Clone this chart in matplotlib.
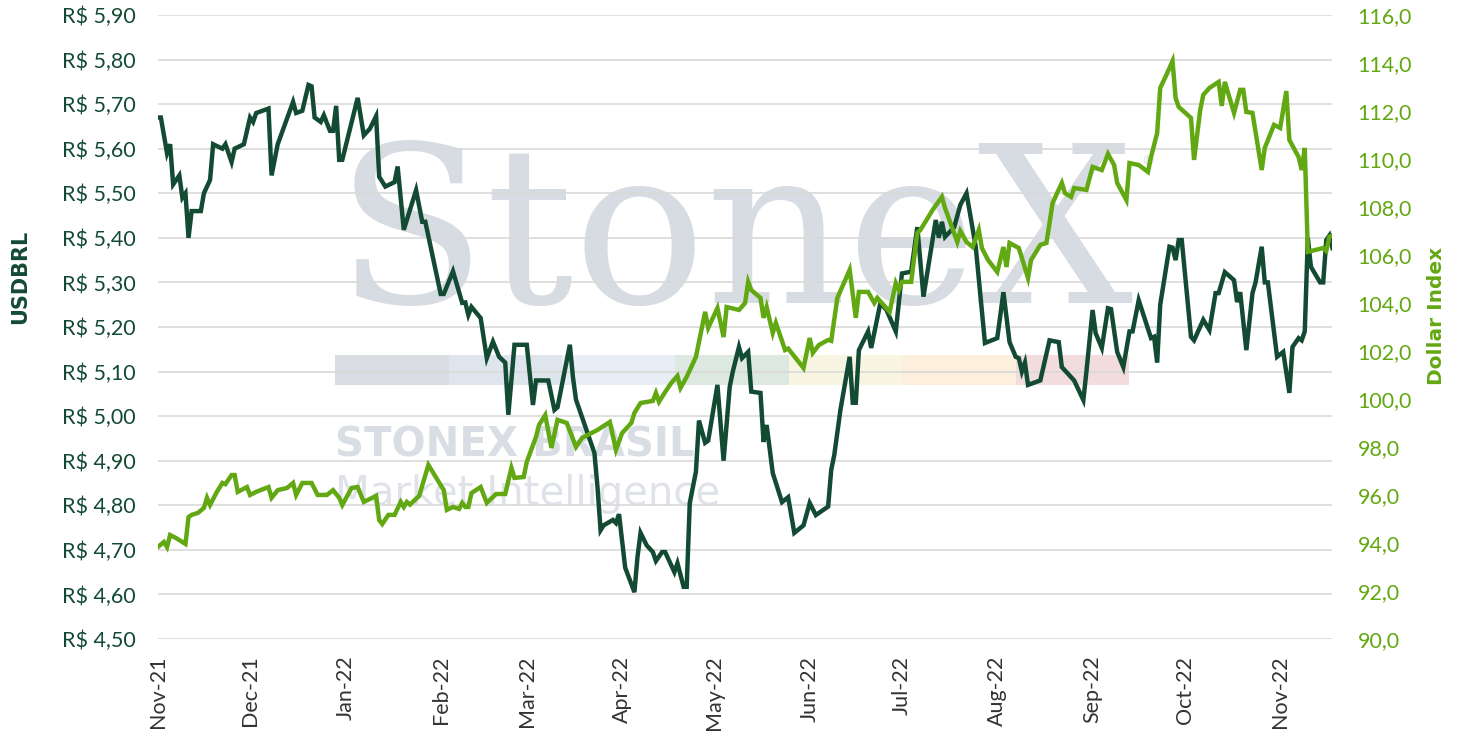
import numpy as np
import pandas as pd
import matplotlib
matplotlib.use("Agg")
import matplotlib.pyplot as plt
import matplotlib.dates as mdates
from matplotlib.ticker import FuncFormatter, MultipleLocator
from matplotlib.patches import Rectangle

plt.rcParams['font.family'] = ['Lato', 'DejaVu Sans']

# USDBRL (left axis)
brl_dates = [
    "2021-11-01", "2021-11-02", "2021-11-04", "2021-11-05", "2021-11-06", "2021-11-08", "2021-11-09",
    "2021-11-10", "2021-11-11", "2021-11-12", "2021-11-15", "2021-11-16", "2021-11-18", "2021-11-19",
    "2021-11-22", "2021-11-23", "2021-11-25", "2021-11-26", "2021-11-29", "2021-12-01", "2021-12-02",
    "2021-12-03", "2021-12-07", "2021-12-08", "2021-12-10", "2021-12-15", "2021-12-16", "2021-12-18",
    "2021-12-20", "2021-12-21", "2021-12-22", "2021-12-24", "2021-12-25", "2021-12-27", "2021-12-28",
    "2021-12-29", "2021-12-30", "2021-12-31", "2022-01-05", "2022-01-07", "2022-01-09", "2022-01-11",
    "2022-01-12", "2022-01-14", "2022-01-17", "2022-01-18", "2022-01-20", "2022-01-24", "2022-01-26",
    "2022-01-27", "2022-02-01", "2022-02-02", "2022-02-05", "2022-02-08", "2022-02-09", "2022-02-10",
    "2022-02-11", "2022-02-14", "2022-02-16", "2022-02-18", "2022-02-20", "2022-02-22", "2022-02-23",
    "2022-02-25", "2022-03-01", "2022-03-03", "2022-03-04", "2022-03-08", "2022-03-10", "2022-03-11",
    "2022-03-15", "2022-03-16", "2022-03-17", "2022-03-23", "2022-03-24", "2022-03-25", "2022-03-26",
    "2022-03-29", "2022-03-30", "2022-03-31", "2022-04-02", "2022-04-05", "2022-04-06", "2022-04-07",
    "2022-04-09", "2022-04-11", "2022-04-12", "2022-04-14", "2022-04-15", "2022-04-18", "2022-04-19",
    "2022-04-21", "2022-04-22", "2022-04-23", "2022-04-25", "2022-04-26", "2022-04-28", "2022-04-29",
    "2022-05-02", "2022-05-04", "2022-05-06", "2022-05-07", "2022-05-09", "2022-05-10", "2022-05-12",
    "2022-05-13", "2022-05-16", "2022-05-17", "2022-05-18", "2022-05-20", "2022-05-23", "2022-05-25",
    "2022-05-27", "2022-05-30", "2022-06-01", "2022-06-03", "2022-06-07", "2022-06-08", "2022-06-09",
    "2022-06-11", "2022-06-14", "2022-06-15", "2022-06-16", "2022-06-17", "2022-06-20", "2022-06-21",
    "2022-06-24", "2022-06-26", "2022-06-29", "2022-07-01", "2022-07-04", "2022-07-06", "2022-07-08",
    "2022-07-12", "2022-07-13", "2022-07-14", "2022-07-15", "2022-07-18", "2022-07-20", "2022-07-22",
    "2022-07-25", "2022-07-28", "2022-08-01", "2022-08-03", "2022-08-05", "2022-08-07", "2022-08-08",
    "2022-08-09", "2022-08-10", "2022-08-11", "2022-08-15", "2022-08-18", "2022-08-21", "2022-08-22",
    "2022-08-26", "2022-08-29", "2022-08-30", "2022-09-01", "2022-09-02", "2022-09-04", "2022-09-06",
    "2022-09-07", "2022-09-09", "2022-09-11", "2022-09-13", "2022-09-14", "2022-09-16", "2022-09-20",
    "2022-09-21", "2022-09-22", "2022-09-23", "2022-09-26", "2022-09-27", "2022-09-28", "2022-09-29",
    "2022-09-30", "2022-10-03", "2022-10-04", "2022-10-07", "2022-10-09", "2022-10-11", "2022-10-12",
    "2022-10-14", "2022-10-17", "2022-10-18", "2022-10-19", "2022-10-21", "2022-10-23", "2022-10-24",
    "2022-10-26", "2022-10-27", "2022-10-28", "2022-10-31", "2022-11-02", "2022-11-04", "2022-11-05",
    "2022-11-07", "2022-11-08", "2022-11-09", "2022-11-10", "2022-11-11", "2022-11-14", "2022-11-15",
    "2022-11-16", "2022-11-17", "2022-11-18",
]
brl_values = [
    5.67, 5.67, 5.59, 5.61, 5.52, 5.54, 5.49,
    5.50, 5.40, 5.46, 5.46, 5.50, 5.53, 5.61,
    5.60, 5.61, 5.57, 5.60, 5.61, 5.67, 5.66,
    5.68, 5.69, 5.54, 5.61, 5.705, 5.68, 5.685,
    5.743, 5.74, 5.67, 5.66, 5.675, 5.64, 5.64,
    5.696, 5.575, 5.575, 5.714, 5.63, 5.645, 5.673,
    5.537, 5.515, 5.525, 5.56, 5.418, 5.507, 5.436,
    5.436, 5.274, 5.274, 5.325, 5.254, 5.255, 5.227,
    5.245, 5.22, 5.13, 5.167, 5.133, 5.12, 5.003,
    5.16, 5.16, 5.025, 5.08, 5.08, 5.014, 5.02,
    5.16, 5.088, 5.037, 4.917, 4.84, 4.744, 4.755,
    4.767, 4.76, 4.78, 4.66, 4.605, 4.684, 4.738,
    4.71, 4.695, 4.675, 4.695, 4.695, 4.65, 4.67,
    4.617, 4.617, 4.805, 4.875, 4.99, 4.94, 4.945,
    5.07, 4.90, 5.066, 5.10, 5.155, 5.13, 5.144,
    5.055, 5.052, 4.942, 4.98, 4.872, 4.807, 4.818,
    4.738, 4.755, 4.805, 4.778, 4.797, 4.879, 4.913,
    5.014, 5.133, 5.03, 5.03, 5.148, 5.19, 5.153,
    5.254, 5.238, 5.19, 5.32, 5.324, 5.424, 5.268,
    5.44, 5.40, 5.436, 5.402, 5.424, 5.474, 5.50,
    5.38, 5.164, 5.175, 5.278, 5.166, 5.133, 5.13,
    5.10, 5.12, 5.07, 5.08, 5.17, 5.166, 5.11,
    5.08, 5.036, 5.10, 5.238, 5.186, 5.153, 5.242,
    5.24, 5.144, 5.11, 5.19, 5.19, 5.26, 5.175,
    5.178, 5.12, 5.25, 5.38, 5.378, 5.35, 5.395,
    5.395, 5.178, 5.17, 5.216, 5.193, 5.276, 5.276,
    5.323, 5.305, 5.256, 5.278, 5.148, 5.276, 5.30,
    5.38, 5.30, 5.30, 5.133, 5.144, 5.052, 5.155,
    5.175, 5.17, 5.19, 5.40, 5.335, 5.30, 5.30,
    5.395, 5.405, 5.377,
]

# Dollar Index (right axis)
dxy_dates = [
    "2021-11-01", "2021-11-03", "2021-11-04", "2021-11-05", "2021-11-07", "2021-11-10", "2021-11-11",
    "2021-11-12", "2021-11-14", "2021-11-16", "2021-11-17", "2021-11-18", "2021-11-20", "2021-11-22",
    "2021-11-23", "2021-11-25", "2021-11-26", "2021-11-27", "2021-11-30", "2021-12-01", "2021-12-03",
    "2021-12-07", "2021-12-08", "2021-12-10", "2021-12-13", "2021-12-15", "2021-12-16", "2021-12-18",
    "2021-12-21", "2021-12-23", "2021-12-26", "2021-12-28", "2021-12-30", "2021-12-31", "2022-01-03",
    "2022-01-05", "2022-01-07", "2022-01-11", "2022-01-12", "2022-01-13", "2022-01-15", "2022-01-17",
    "2022-01-19", "2022-01-20", "2022-01-21", "2022-01-22", "2022-01-25", "2022-01-28", "2022-02-02",
    "2022-02-03", "2022-02-05", "2022-02-07", "2022-02-08", "2022-02-09", "2022-02-10", "2022-02-11",
    "2022-02-14", "2022-02-16", "2022-02-19", "2022-02-22", "2022-02-24", "2022-02-25", "2022-02-28",
    "2022-03-01", "2022-03-04", "2022-03-05", "2022-03-07", "2022-03-09", "2022-03-11", "2022-03-14",
    "2022-03-17", "2022-03-19", "2022-03-24", "2022-03-28", "2022-03-30", "2022-04-01", "2022-04-04",
    "2022-04-05", "2022-04-07", "2022-04-11", "2022-04-12", "2022-04-13", "2022-04-15", "2022-04-17",
    "2022-04-19", "2022-04-20", "2022-04-22", "2022-04-25", "2022-04-28", "2022-04-29", "2022-05-02",
    "2022-05-04", "2022-05-05", "2022-05-09", "2022-05-11", "2022-05-12", "2022-05-13", "2022-05-16",
    "2022-05-17", "2022-05-18", "2022-05-20", "2022-05-21", "2022-05-24", "2022-05-25", "2022-05-30",
    "2022-06-01", "2022-06-02", "2022-06-04", "2022-06-07", "2022-06-08", "2022-06-10", "2022-06-14",
    "2022-06-16", "2022-06-17", "2022-06-20", "2022-06-22", "2022-06-23", "2022-06-27", "2022-06-29",
    "2022-06-30", "2022-07-01", "2022-07-04", "2022-07-06", "2022-07-07", "2022-07-11", "2022-07-14",
    "2022-07-15", "2022-07-19", "2022-07-20", "2022-07-22", "2022-07-24", "2022-07-26", "2022-07-27",
    "2022-07-29", "2022-08-01", "2022-08-03", "2022-08-04", "2022-08-05", "2022-08-08", "2022-08-09",
    "2022-08-11", "2022-08-12", "2022-08-15", "2022-08-17", "2022-08-19", "2022-08-22", "2022-08-23",
    "2022-08-25", "2022-08-26", "2022-08-30", "2022-09-01", "2022-09-04", "2022-09-06", "2022-09-08",
    "2022-09-09", "2022-09-12", "2022-09-13", "2022-09-16", "2022-09-19", "2022-09-20", "2022-09-22",
    "2022-09-23", "2022-09-25", "2022-09-27", "2022-09-28", "2022-09-29", "2022-10-03", "2022-10-04",
    "2022-10-06", "2022-10-07", "2022-10-09", "2022-10-12", "2022-10-13", "2022-10-14", "2022-10-17",
    "2022-10-19", "2022-10-20", "2022-10-21", "2022-10-23", "2022-10-26", "2022-10-27", "2022-10-30",
    "2022-11-01", "2022-11-03", "2022-11-04", "2022-11-07", "2022-11-08", "2022-11-09", "2022-11-10",
    "2022-11-15", "2022-11-16", "2022-11-17", "2022-11-18",
]
dxy_values = [
    93.83, 94.04, 93.83, 94.33, 94.2, 93.96, 95.08,
    95.17, 95.25, 95.46, 95.88, 95.58, 96.08, 96.5,
    96.45, 96.83, 96.83, 96.13, 96.33, 96.0, 96.13,
    96.33, 95.88, 96.2, 96.29, 96.5, 96.0, 96.5,
    96.5, 96.0, 96.0, 96.2, 95.88, 95.58, 96.29,
    96.33, 95.71, 95.96, 94.96, 94.79, 95.17, 95.17,
    95.71, 95.5, 95.71, 95.6, 95.96, 97.25, 96.2,
    95.38, 95.5, 95.42, 95.67, 95.5, 95.5, 96.08,
    96.33, 95.67, 96.04, 96.04, 97.13, 96.71, 96.75,
    97.38, 98.42, 98.92, 99.33, 97.96, 99.13, 99.0,
    98.0, 98.38, 98.71, 99.04, 97.88, 98.58, 99.0,
    99.42, 99.83, 99.92, 100.25, 99.88, 100.29, 100.67,
    100.96, 100.46, 100.92, 101.75, 103.63, 102.96, 103.79,
    102.58, 103.83, 103.71, 104.0, 104.88, 104.54, 104.21,
    103.38, 103.83, 102.75, 103.17, 102.04, 102.1, 101.29,
    102.54, 101.92, 102.25, 102.46, 102.42, 104.21, 105.38,
    103.38, 104.46, 104.46, 104.0, 104.21, 103.63, 104.83,
    104.54, 104.88, 104.88, 106.92, 107.04, 107.88, 108.42,
    107.96, 106.54, 107.0, 106.54, 106.33, 107.04, 106.29,
    105.79, 105.29, 106.33, 105.5, 106.5, 106.29, 105.88,
    105.04, 105.79, 106.42, 106.5, 108.17, 109.0, 108.58,
    108.42, 108.79, 108.71, 109.67, 109.54, 110.21, 109.75,
    109.0, 108.29, 109.83, 109.75, 109.46, 110.08, 111.08,
    112.96, 113.5, 114.08, 112.54, 112.17, 111.71, 109.96,
    112.04, 112.67, 112.96, 113.21, 112.21, 113.21, 111.92,
    112.88, 112.88, 111.96, 111.92, 109.54, 110.46, 111.42,
    111.29, 112.83, 110.79, 110.08, 109.54, 110.46, 106.13,
    106.29, 106.17, 106.75, 106.83,
]

dark_green = "#134a33"
light_green = "#62a812"
grid_grey = "#d9d9d9"

brl_x = pd.to_datetime(brl_dates)
dxy_x = pd.to_datetime(dxy_dates)

fig = plt.figure(figsize=(14.61, 7.41), dpi=100)
ax = fig.add_axes([0.108, 0.1377, 0.804, 0.8421])
ax2 = ax.twinx()
ax.patch.set_visible(False)

# faint StoneX watermark behind the lines
ax.text(0.151, 0.538, "StoneX", transform=ax.transAxes, family="DejaVu Serif",
        fontsize=158, color="#d7dce3", ha="left", va="baseline", zorder=0)
ax.text(0.838, 0.76, "®", transform=ax.transAxes, fontsize=10, color="#d7dce3", zorder=0)
band_colors = ["#d9dde3", "#dfe5ec", "#e8eef5", "#dde8e0", "#f8f5e2", "#fcefdc", "#f2dcdd"]
seg_w = (0.827 - 0.151) / len(band_colors)
for i, c in enumerate(band_colors):
    ax.add_patch(Rectangle((0.151 + i * seg_w, 0.407), seg_w, 0.048, transform=ax.transAxes,
                           facecolor=c, edgecolor="none", zorder=0))
ax.text(0.151, 0.292, "STONEX BRASIL", transform=ax.transAxes, fontsize=29, fontweight="bold",
        family="DejaVu Sans", color="#d9dee5", ha="left", va="baseline", zorder=0)
ax.text(0.151, 0.215, "Market Intelligence", transform=ax.transAxes, fontsize=29,
        family="DejaVu Sans", fontweight="normal", color="#dfe3e9", ha="left", va="baseline", zorder=0)

ax.plot(brl_x, brl_values, color=dark_green, linewidth=3.2, zorder=3, solid_joinstyle="miter")
ax2.plot(dxy_x, dxy_values, color=light_green, linewidth=3.2, zorder=3, solid_joinstyle="miter")

ax.set_ylim(4.5, 5.9)
ax2.set_ylim(90, 116)
ax.set_xlim(pd.Timestamp("2021-11-01"), pd.Timestamp("2022-11-18"))

ax.yaxis.set_major_locator(MultipleLocator(0.1))
ax2.yaxis.set_major_locator(MultipleLocator(2))
ax.yaxis.set_major_formatter(FuncFormatter(lambda v, p: "R$ " + f"{v:.2f}".replace(".", ",")))
ax2.yaxis.set_major_formatter(FuncFormatter(lambda v, p: f"{v:.1f}".replace(".", ",")))

ax.xaxis.set_major_locator(mdates.MonthLocator())
ax.xaxis.set_major_formatter(mdates.DateFormatter("%b-%y"))

ax.grid(axis="y", color=grid_grey, linewidth=1.2)
ax.set_axisbelow(True)
for a in (ax, ax2):
    for s in a.spines.values():
        s.set_visible(False)

ax.tick_params(axis="y", length=0, pad=16, labelsize=15.5, labelcolor=dark_green)
ax2.tick_params(axis="y", length=0, pad=18, labelsize=15.5, labelcolor=light_green)
ax.tick_params(axis="x", length=0, pad=12, labelsize=15.5, labelcolor="#333333", labelrotation=90)

fig.text(0.0137, 0.626, "USDBRL", rotation=90, ha="center", va="center", family="DejaVu Sans",
         fontsize=15, fontweight="bold", color=dark_green)
fig.text(0.9835, 0.574, "Dollar Index", rotation=90, ha="center", va="center", family="DejaVu Sans",
         fontsize=14.5, fontweight="bold", color=light_green)

fig.savefig("out.png", dpi=100, facecolor="white")
